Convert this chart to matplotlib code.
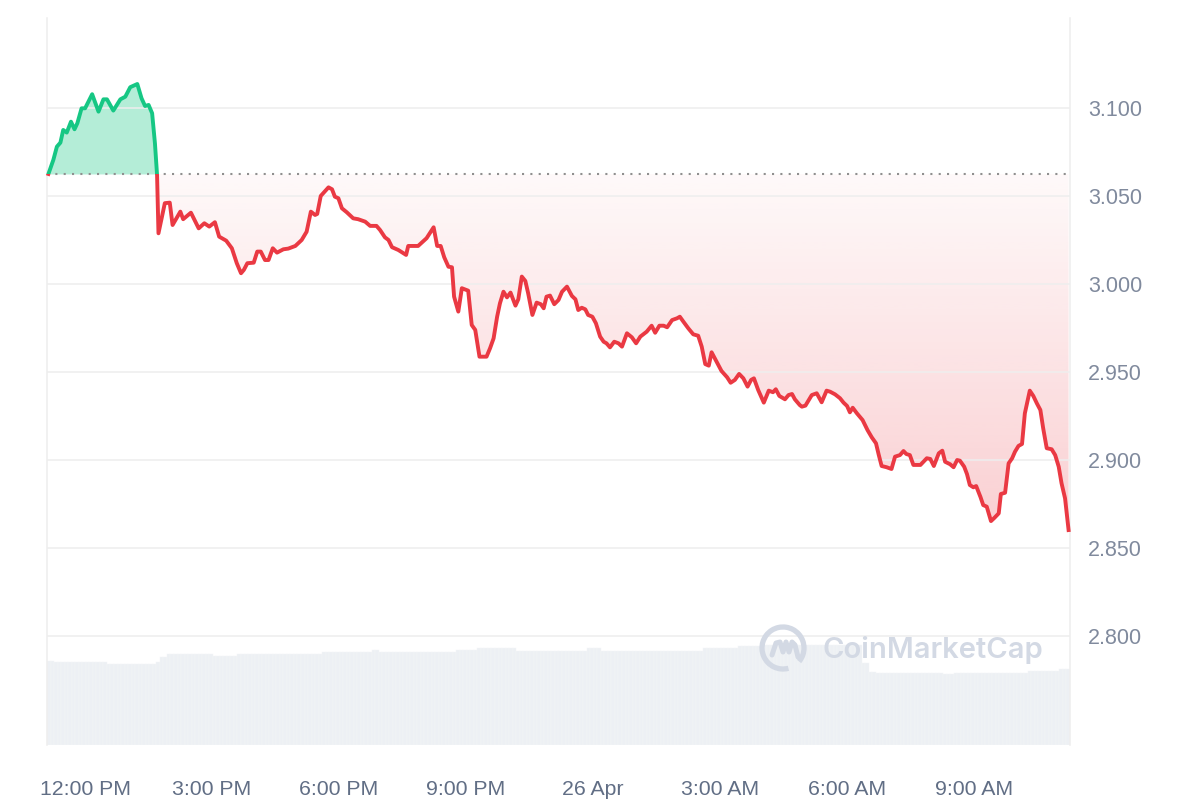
import numpy as np
import pandas as pd
import matplotlib
matplotlib.use('Agg')
import matplotlib.pyplot as plt
import matplotlib.dates as mdates
from matplotlib.patches import Rectangle, Arc
from matplotlib.path import Path
from matplotlib.ticker import FixedLocator, FuncFormatter

plt.rcParams['font.family'] = ['Liberation Sans', 'DejaVu Sans']

# start of the time axis
t0 = pd.Timestamp('2024-04-25 12:00')

# minutes from 12:00 PM, and price
minutes = [-52, -45, -40, -35, -31, -26, -20, -15, -11, -5, 0, 10, 19, 26, 31, 40, 50, 57, 64, 74, 80, 85, 90, 95, 99, 102, 104,
           113, 120, 124, 135, 139, 150, 161, 169, 176, 184, 190, 200, 208, 215, 221, 225, 230, 239, 244, 249, 255, 260, 266, 272,
           281, 288, 298, 307, 314, 320, 326, 329,
           334, 345, 350, 354, 359, 364, 371, 380, 387, 397, 404, 413, 418, 425, 430, 435, 444, 455, 458, 472, 484, 494, 499, 504,
           509, 515, 520, 523, 529, 534, 543, 548, 553, 559,
           569, 574, 579, 584, 588, 593, 598, 603, 610, 614, 619, 624, 628, 634, 640, 646, 650, 654, 659, 665, 671, 676, 683, 690,
           695, 699, 704, 709, 713, 719, 724, 730, 735, 739, 744, 750, 756, 761, 768, 775, 781, 787,
           796, 803, 808, 814, 820, 825, 832, 839, 843, 848, 855, 862, 869, 874, 879, 884, 888, 895, 902, 910, 915, 921, 927, 933,
           939, 944, 948, 954, 962, 969, 975, 979, 984, 992, 997, 1002, 1006, 1013,
           1016, 1021, 1030, 1037, 1044, 1051, 1056, 1063, 1070, 1075, 1080, 1084, 1088, 1094, 1102, 1109, 1115, 1121, 1125, 1129,
           1136, 1143, 1148, 1155, 1160, 1164, 1169, 1174, 1184, 1193, 1198, 1203, 1210, 1215, 1219, 1226, 1231, 1236, 1240,
           1246, 1250, 1254, 1259, 1263, 1269, 1273, 1278, 1284, 1289, 1295, 1298, 1304, 1309, 1314, 1318, 1323, 1328, 1332, 1339,
           1344, 1349, 1354, 1358, 1363, 1370, 1375, 1380, 1384, 1389, 1394]

prices = [3.0625, 3.0705, 3.0780, 3.0803, 3.0875, 3.0860, 3.0922, 3.0879, 3.0913, 3.0998, 3.0998, 3.1078, 3.0979, 3.1049,
          3.1049, 3.0985, 3.1049, 3.1064, 3.1118, 3.1136, 3.1055, 3.1011, 3.1017, 3.0970, 3.0799, 3.0619, 3.0288,
          3.0459, 3.0462, 3.0335, 3.0411, 3.0368, 3.0405, 3.0316, 3.0345, 3.0326, 3.0351, 3.0269, 3.0246, 3.0203, 3.0118,
          3.0061, 3.0080, 3.0118, 3.0121, 3.0184, 3.0184, 3.0136, 3.0136, 3.0203, 3.0178, 3.0197, 3.0201, 3.0216, 3.0250,
          3.0297, 3.0411, 3.0392, 3.0398,
          3.0500, 3.0549, 3.0538, 3.0496, 3.0487, 3.0430, 3.0407, 3.0373, 3.0368, 3.0354, 3.0330, 3.0330, 3.0307, 3.0265,
          3.0250, 3.0209, 3.0193, 3.0165, 3.0216, 3.0216, 3.0260, 3.0322, 3.0216, 3.0216, 3.0152, 3.0098, 3.0095, 2.9928,
          2.9843, 2.9976, 2.9962, 2.9767, 2.9739, 2.9587,
          2.9587, 2.9635, 2.9691, 2.9814, 2.9890, 2.9956, 2.9924, 2.9951, 2.9877, 2.9913, 3.0042, 3.0017, 2.9947, 2.9824,
          2.9894, 2.9885, 2.9862, 2.9928, 2.9934, 2.9885, 2.9909, 2.9956, 2.9985, 2.9932, 2.9913, 2.9852, 2.9865, 2.9856,
          2.9824, 2.9814, 2.9777, 2.9701, 2.9672, 2.9663, 2.9640, 2.9672, 2.9663, 2.9644, 2.9720, 2.9697, 2.9663, 2.9701,
          2.9729, 2.9763, 2.9723, 2.9763, 2.9763, 2.9754, 2.9795, 2.9805, 2.9814, 2.9786, 2.9748, 2.9714, 2.9706, 2.9644,
          2.9545, 2.9536, 2.9612, 2.9559, 2.9506, 2.9470, 2.9439, 2.9455, 2.9489, 2.9464, 2.9417, 2.9455, 2.9464, 2.9398,
          2.9326, 2.9394, 2.9385, 2.9402, 2.9364, 2.9345, 2.9369, 2.9375, 2.9345, 2.9312,
          2.9303, 2.9309, 2.9369, 2.9379, 2.9328, 2.9394, 2.9388, 2.9373, 2.9351, 2.9326, 2.9307, 2.9271, 2.9297, 2.9265,
          2.9227, 2.9170, 2.9129, 2.9095, 2.9028, 2.8966, 2.8959, 2.8949, 2.9019, 2.9028, 2.9051, 2.9034, 2.9028, 2.8972,
          2.8972, 2.9010, 2.9006, 2.8966, 2.9038, 2.9053, 2.8990, 2.8976, 2.8959, 2.9000, 2.8996,
          2.8962, 2.8920, 2.8858, 2.8845, 2.8852, 2.8791, 2.8744, 2.8735, 2.8653, 2.8672, 2.8697, 2.8807, 2.8814, 2.8981,
          2.9010, 2.9047, 2.9080, 2.9091, 2.9265, 2.9394, 2.9364, 2.9322, 2.9284, 2.9180, 2.9067, 2.9061, 2.9028, 2.8962,
          2.8868, 2.8782, 2.8602]

# 24h volume (arbitrary units), constant from each start minute
vol_start = [-54, -47, 31, 98, 102, 113, 177, 214, 332, 403, 412, 526, 556, 607, 711, 730, 872, 926, 957, 1101, 1110,
             1117, 1216, 1230, 1335, 1379]
vol_level = [84.3, 82.7, 80.7, 83.0, 88.3, 90.7, 89.0, 90.7, 92.7, 94.7, 92.7, 94.7, 96.7, 94.3, 96.7, 94.3, 96.7, 99.0,
             100.5, 82.0, 73.3, 72.3, 71.0, 72.3, 74.3, 76.3]

price_ticks = [2.80, 2.85, 2.90, 2.95, 3.00, 3.05, 3.10]
x_tick_hours = [0, 3, 6, 9, 12, 15, 18, 21]

GREEN = '#16c784'
RED = '#ea3943'

x = mdates.date2num(t0 + pd.to_timedelta(minutes, unit='m'))
y = np.array(prices)
base = prices[0]
xmin = mdates.date2num(t0 + pd.Timedelta(minutes=-54))
xmax = mdates.date2num(t0 + pd.Timedelta(minutes=1396))
ymin, ymax = 2.7381, 3.1511

fig = plt.figure(figsize=(12, 8), dpi=100)
ax = fig.add_axes([47 / 1200, 55 / 800, 1023 / 1200, 727 / 800])
axv = ax.twinx()
ax.set_zorder(2)
axv.set_zorder(1)
ax.patch.set_visible(False)

# volume bars
vt = np.arange(-54, 1396, 5)
idx = np.searchsorted(vol_start, vt, side='right') - 1
vx = mdates.date2num(t0 + pd.to_timedelta(vt + 2.5, unit='m'))
axv.bar(vx, np.array(vol_level)[idx], width=5 / 1440, color='#edf0f4', edgecolor='#f4f6f8', linewidth=0.35)
axv.set_ylim(0, 727)
axv.set_yticks([])
for s in axv.spines.values():
    s.set_visible(False)

# fills
ax.fill_between(x, y, base, where=y >= base, interpolate=True, color=GREEN, alpha=0.32, lw=0, zorder=1)
poly = ax.fill_between(x, y, base, where=y <= base, interpolate=True, color='none', lw=0)
red_area = Path.make_compound_path(*poly.get_paths())
grad = np.zeros((256, 1, 4))
grad[:, 0, :3] = matplotlib.colors.to_rgb(RED)
grad[:, 0, 3] = np.linspace(0.24, 0.03, 256)
im = ax.imshow(grad, extent=[xmin, xmax, y.min(), base], origin='lower', aspect='auto', zorder=1,
               interpolation='bilinear')
im.set_clip_path(red_area, transform=ax.transData)

# grid
for t in price_ticks:
    ax.axhline(t, color='#eeeeee', lw=1.1, zorder=1.5)

# baseline
ax.axhline(base, color='#8f8f8f', lw=1.5, linestyle=(0, (1, 3)), zorder=1.8)

# price line, green above baseline, red below
up = Rectangle((xmin - 1, base), xmax - xmin + 2, 1, transform=ax.transData)
dn = Rectangle((xmin - 1, base - 1), xmax - xmin + 2, 1, transform=ax.transData)
lg, = ax.plot(x, y, color=GREEN, lw=2.8, solid_joinstyle='round', zorder=3)
lg.set_clip_path(up)
lr, = ax.plot(x, y, color=RED, lw=2.8, solid_joinstyle='round', zorder=3)
lr.set_clip_path(dn)

ax.set_xlim(xmin, xmax)
ax.set_ylim(ymin, ymax)

ax.yaxis.tick_right()
ax.set_yticks(price_ticks)
ax.yaxis.set_major_formatter(FuncFormatter(lambda v, p: f'{v:.3f}'))
ax.tick_params(axis='y', length=0, pad=13, labelsize=15.5, labelcolor='#808a9d')

xt = [mdates.date2num(t0 + pd.Timedelta(hours=h)) for h in x_tick_hours]


def fmt_time(v, pos):
    d = mdates.num2date(v)
    if d.hour == 0:
        return f"{d.day} {d.strftime('%b')}"
    h = d.hour % 12 or 12
    return f"{h}:{d.minute:02d} {'AM' if d.hour < 12 else 'PM'}"


ax.xaxis.set_major_locator(FixedLocator(xt))
ax.xaxis.set_major_formatter(FuncFormatter(fmt_time))
ax.tick_params(axis='x', length=0, pad=25, labelsize=15.3, labelcolor='#616e85')

for k in ['top', 'bottom']:
    ax.spines[k].set_visible(False)
for k in ['left', 'right']:
    ax.spines[k].set_color('#eeeeee')
    ax.spines[k].set_linewidth(1.1)

# watermark
wm = '#d3d9e4'
lax = fig.add_axes([757 / 1200, (800 - 674) / 800, 52 / 1200, 52 / 800])
lax.set_zorder(6)
lax.patch.set_visible(False)
lax.set_xlim(-26, 26)
lax.set_ylim(-26, 26)
lax.set_aspect('equal')
lax.axis('off')
lax.add_patch(Arc((0, 0), 42, 42, theta1=-40, theta2=285, color=wm, lw=3.8))
lax.plot([-11, -7, -3, 0, 3, 6, 9, 12, 15], [-7, 5, 6, -4, 6, -4, 6, 3, -9],
         color=wm, lw=3.6, solid_capstyle='round', solid_joinstyle='round')
fig.text(822 / 1200, 1 - 650 / 800, 'CoinMarketCap', color=wm, fontsize=21, fontweight='semibold',
         family=['Inter', 'DejaVu Sans'], va='center', ha='left', zorder=7)

fig.savefig('out.png', dpi=100, facecolor='white')
